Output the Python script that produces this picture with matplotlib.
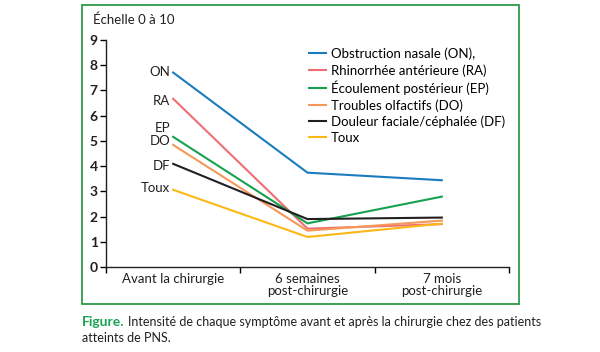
import matplotlib.pyplot as plt
from matplotlib.patches import Rectangle

plt.rcParams["font.family"] = ["Lato", "DejaVu Sans"]

periods = ["Avant la chirurgie", "6 semaines\npost-chirurgie", "7 mois\npost-chirurgie"]
legend_names = [
    "Obstruction nasale (ON),",
    "Rhinorrhée antérieure (RA)",
    "Écoulement postérieur (EP)",
    "Troubles olfactifs (DO)",
    "Douleur faciale/céphalée (DF)",
    "Toux",
]
short_names = ["ON", "RA", "EP", "DO", "DF", "Toux"]
on = [7.71, 3.74, 3.44]
ra = [6.67, 1.52, 1.70]
ep = [5.16, 1.73, 2.79]
do = [4.84, 1.44, 1.84]
df = [4.09, 1.90, 1.96]
toux = [3.06, 1.19, 1.72]
series = [on, ra, ep, do, df, toux]
# label positions (y) for the direct labels at the left
label_y = [7.72, 6.6, 5.5, 4.98, 4.0, 3.15]

colors = ["#1a7bbf", "#ee6e73", "#16a150", "#f4995a", "#231f20", "#fbb817"]

fig = plt.figure(figsize=(6.0, 3.52), dpi=100)
fig.patches.append(Rectangle((82 / 600, 1 - 304 / 352), (519 - 82) / 600, (304 - 5) / 352,
                             transform=fig.transFigure, fill=False, edgecolor="#2e9a4a", lw=1.3))

ax = fig.add_axes([106 / 600, 1 - 267 / 352, (509 - 106) / 600, (267 - 40) / 352])
x = list(range(len(periods)))
for vals, name, c in zip(series, legend_names, colors):
    ax.plot(x, vals, color=c, lw=1.5, label=name)

for sn, ly in zip(short_names, label_y):
    ax.text(-0.02, ly, sn, ha="right", va="center", fontsize=9.5, color="#231f20")

ax.set_xlim(-0.5, 2.5)
ax.set_ylim(0, 9)
ax.set_yticks(range(10))
ax.set_yticklabels([str(i) for i in range(10)], fontsize=10, fontweight="bold", color="#231f20")
ax.set_xticks([-0.5, 0.5, 1.5, 2.5])
ax.set_xticklabels([])
ax.set_xticks(x, minor=True)
ax.set_xticklabels(periods, minor=True, fontsize=9.5, color="#231f20", linespacing=1.0)
ax.tick_params(axis="x", which="minor", length=0, pad=4)
ax.tick_params(axis="x", which="major", length=4, width=1, direction="out")
ax.tick_params(axis="y", length=4, width=1, pad=2)
for s in ["top", "right"]:
    ax.spines[s].set_visible(False)
for s in ["left", "bottom"]:
    ax.spines[s].set_linewidth(1)
    ax.spines[s].set_color("#231f20")

fig.text(93 / 600, 1 - 20 / 352, "Échelle 0 à 10", fontsize=9.5, va="center", ha="left", color="#231f20")

ax.legend(loc="upper left", bbox_to_anchor=(0.49, 0.99), frameon=False, fontsize=9.5,
          handlelength=1.3, handletextpad=0.4, labelspacing=0.3, borderaxespad=0)

fig.text(82 / 600, 1 - 322 / 352, "Figure.", fontsize=10, fontweight="bold", color="#1aa152", va="center")
fig.text(128 / 600, 1 - 322 / 352, "Intensité de chaque symptôme avant et après la chirurgie chez des patients",
         fontsize=9, color="#231f20", va="center")
fig.text(82 / 600, 1 - 338 / 352, "atteints de PNS.", fontsize=9, color="#231f20", va="center")

fig.savefig("out.png", dpi=100)
